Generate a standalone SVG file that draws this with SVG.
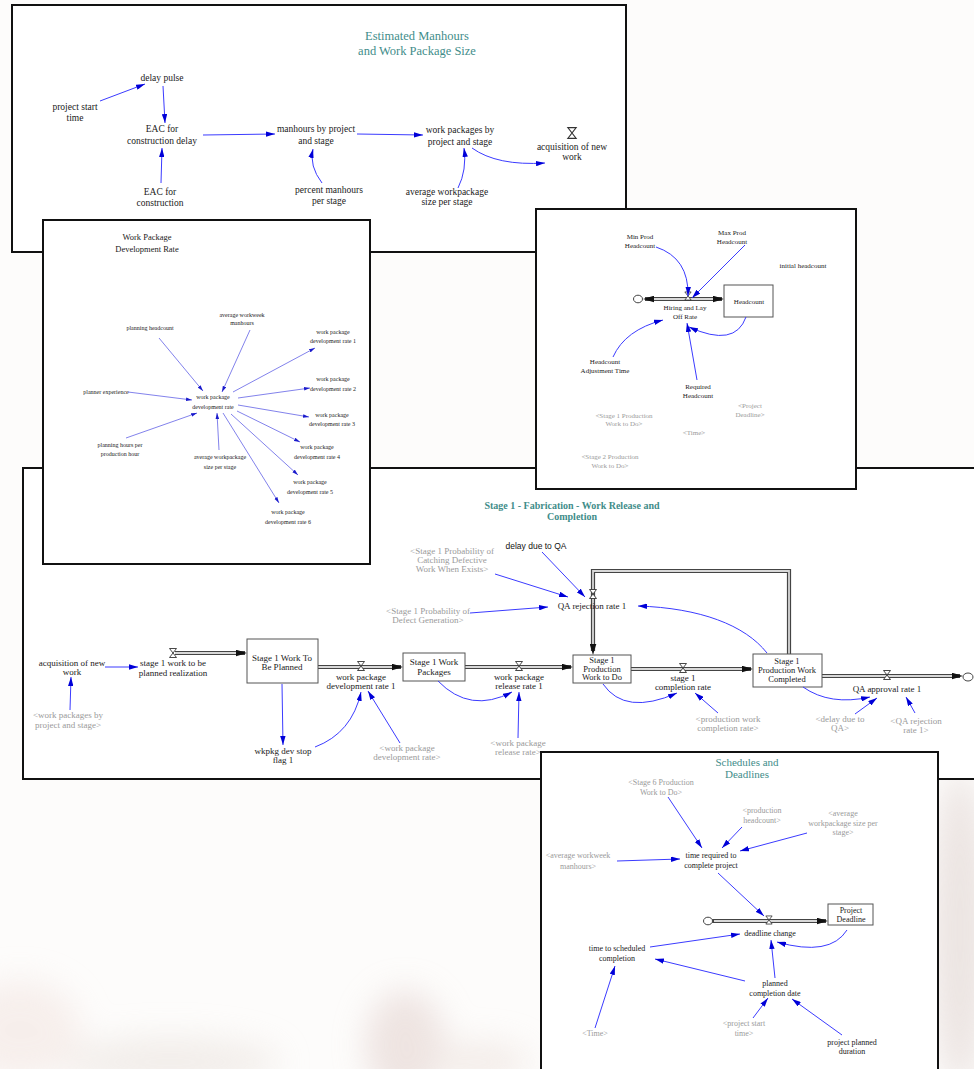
<svg xmlns="http://www.w3.org/2000/svg" width="974" height="1069" viewBox="0 0 974 1069">
<style>
.panel{fill:#fff;stroke:#111;stroke-width:2}
.t{font-family:"Liberation Serif","Times New Roman",serif;fill:#1a1a1a;text-anchor:middle}
.g{fill:#9a9a9a}
.ttl{fill:#3f8d8a}
.p1{font-size:9.5px}
.p2{font-size:6px}
.p3{font-size:7px}
.p4{font-size:9px}
.p5{font-size:8px}
.c{fill:none;stroke:#3b3bff;stroke-width:1;marker-end:url(#ab)}
.cs{fill:none;stroke:#6262e6;stroke-width:0.8;marker-end:url(#abs)}
.pipeo{fill:none;stroke:#444;stroke-width:4.2}
.pipei{fill:none;stroke:#d8d8d8;stroke-width:1.8}
.box{fill:#fff;stroke:#555;stroke-width:1}
.valve{fill:#fff;stroke:#333;stroke-width:0.9}
.cloud{fill:#fff;stroke:#444;stroke-width:1}
</style>
<defs>
<marker id="ab" viewBox="0 0 10 6" refX="10" refY="3" markerWidth="9" markerHeight="5.5" markerUnits="userSpaceOnUse" orient="auto"><path d="M0,0 L10,3 L0,6 z" fill="#0000d8"/></marker>
<marker id="abs" viewBox="0 0 10 6" refX="10" refY="3" markerWidth="6" markerHeight="4" markerUnits="userSpaceOnUse" orient="auto"><path d="M0,0 L10,3 L0,6 z" fill="#1a1acc"/></marker>
<marker id="af" viewBox="0 0 10 6" refX="10" refY="3" markerWidth="11" markerHeight="7" markerUnits="userSpaceOnUse" orient="auto-start-reverse"><path d="M0,0 L10,3 L0,6 z" fill="#111"/></marker>
<path id="hg" d="M-3.5,-4.5 H3.5 L-3.5,4.5 H3.5 Z"/>
<filter id="blur" x="-50%" y="-50%" width="200%" height="200%"><feGaussianBlur stdDeviation="16"/></filter>
</defs>

<g id="background">
<rect x="0" y="0" width="974" height="1069" fill="#fdfcfb"/>
<g filter="url(#blur)" opacity="0.6">
<ellipse cx="20" cy="1030" rx="60" ry="50" fill="#f3e6e2"/>
<ellipse cx="170" cy="1062" rx="110" ry="25" fill="#ebe4df"/>
<ellipse cx="405" cy="1045" rx="40" ry="55" fill="#e4d4d0"/>
<ellipse cx="480" cy="1062" rx="50" ry="20" fill="#ede2dd"/>
<ellipse cx="960" cy="930" rx="28" ry="160" fill="#e0d4d0"/>
</g>
</g>

<!-- Panel 1 -->
<g id="panel-estimated-manhours">
<rect class="panel" x="12" y="5" width="614" height="247"/>
<text class="t ttl" font-size="12.5" x="417" y="40">Estimated Manhours</text>
<text class="t ttl" font-size="12.5" x="417" y="55">and Work Package Size</text>
<g id="n-delay-pulse"><text class="t p1" x="162" y="81">delay pulse</text></g>
<g id="n-project-start-time"><text class="t p1" x="75" y="110">project start</text><text class="t p1" x="75" y="121">time</text></g>
<g id="n-eac-delay"><text class="t p1" x="162" y="132">EAC for</text><text class="t p1" x="162" y="144">construction delay</text></g>
<g id="n-eac"><text class="t p1" x="160" y="195">EAC for</text><text class="t p1" x="160" y="206">construction</text></g>
<g id="n-manhours"><text class="t p1" x="316" y="132">manhours by project</text><text class="t p1" x="316" y="144">and stage</text></g>
<g id="n-percent"><text class="t p1" x="329" y="193">percent manhours</text><text class="t p1" x="329" y="204">per stage</text></g>
<g id="n-wp-by-project"><text class="t p1" x="460" y="133">work packages by</text><text class="t p1" x="460" y="145">project and stage</text></g>
<g id="n-avg-wp"><text class="t p1" x="447" y="195">average workpackage</text><text class="t p1" x="447" y="205">size per stage</text></g>
<g id="n-acq"><use href="#hg" class="valve" transform="translate(572,133) scale(1.2)"/><text class="t p1" x="572" y="150">acquisition of new</text><text class="t p1" x="572" y="160">work</text></g>
<g id="connectors-1">
<path class="c" d="M100,101 L145,84"/>
<path class="c" d="M163,86 L165,123"/>
<path class="c" d="M161,183 L162,148"/>
<path class="c" d="M203,135 L275,134"/>
<path class="c" d="M322,183 Q309,166 313,149"/>
<path class="c" d="M357,134 L423,135"/>
<path class="c" d="M458,188 Q467,170 464,148"/>
<path class="c" d="M472,148 Q497,166 545,163"/>
</g>
</g>

<!-- Panel 4 -->
<g id="panel-stage1">
<rect class="panel" x="23" y="468" width="960" height="311"/>
<text class="t ttl" font-size="10" font-weight="bold" x="572" y="509">Stage 1 - Fabrication - Work Release and</text>
<text class="t ttl" font-size="10" font-weight="bold" x="572" y="520">Completion</text>
<g id="pipes-4">
<path class="pipeo" d="M175,653 H245"/><path class="pipei" d="M175,653 H243"/>
<path class="pipeo" d="M318,667 H401"/><path class="pipei" d="M318,667 H399"/>
<path class="pipeo" d="M465,667 H571"/><path class="pipei" d="M465,667 H569"/>
<path class="pipeo" d="M631,669 H751"/><path class="pipei" d="M631,669 H749"/>
<path class="pipeo" d="M822,676 H960"/><path class="pipei" d="M822,676 H958"/>
<path class="pipeo" d="M789,654 V571 H593 V651"/><path class="pipei" d="M789,654 V571 H593 V649"/>
<path fill="none" stroke="none" d="M175,653 H247" marker-end="url(#af)"/>
<path fill="none" stroke="none" d="M318,667 H403" marker-end="url(#af)"/>
<path fill="none" stroke="none" d="M465,667 H573" marker-end="url(#af)"/>
<path fill="none" stroke="none" d="M631,669 H753" marker-end="url(#af)"/>
<path fill="none" stroke="none" d="M822,676 H963" marker-end="url(#af)"/>
<path fill="none" stroke="none" d="M593,600 V655" marker-end="url(#af)"/>
<ellipse class="cloud" cx="968" cy="677" rx="5" ry="4"/>
</g>
<g id="n-acq4"><text class="t p4" x="72" y="666">acquisition of new</text><text class="t p4" x="72" y="675">work</text></g>
<g id="n-s1-realization"><use href="#hg" class="valve" transform="translate(173,653)"/><text class="t p4" x="173" y="666">stage 1 work to be</text><text class="t p4" x="173" y="676">planned realization</text></g>
<g id="n-s1-tobeplanned"><rect class="box" x="247" y="639" width="71" height="44"/><text class="t p4" x="282" y="661">Stage 1 Work To</text><text class="t p4" x="282" y="670">Be Planned</text></g>
<g id="n-wp-by-project-shadow"><text class="t p4 g" x="68" y="718">&lt;work packages by</text><text class="t p4 g" x="68" y="728">project and stage&gt;</text></g>
<g id="n-stopflag"><text class="t p4" x="283" y="754">wkpkg dev stop</text><text class="t p4" x="283" y="763">flag 1</text></g>
<g id="n-devrate1"><use href="#hg" class="valve" transform="translate(361,666)"/><text class="t p4" x="361" y="680">work package</text><text class="t p4" x="361" y="689">development rate 1</text></g>
<g id="n-s1-packages"><rect class="box" x="403" y="653" width="62" height="28"/><text class="t p4" x="434" y="665">Stage 1 Work</text><text class="t p4" x="434" y="675">Packages</text></g>
<g id="n-releaserate1"><use href="#hg" class="valve" transform="translate(519,666)"/><text class="t p4" x="519" y="680">work package</text><text class="t p4" x="519" y="689">release rate 1</text></g>
<g id="n-s1-todo"><rect class="box" x="573" y="655" width="58" height="28"/><text class="t" font-size="8.5" x="602" y="663">Stage 1</text><text class="t" font-size="8.5" x="602" y="671.5">Production</text><text class="t" font-size="8.5" x="602" y="680">Work to Do</text></g>
<g id="n-s1-completion"><use href="#hg" class="valve" transform="translate(683,668)"/><text class="t p4" x="683" y="681">stage 1</text><text class="t p4" x="683" y="690">completion rate</text></g>
<g id="n-s1-completed"><rect class="box" x="753" y="654" width="69" height="33"/><text class="t" font-size="8.5" x="787" y="664">Stage 1</text><text class="t" font-size="8.5" x="787" y="673">Production Work</text><text class="t" font-size="8.5" x="787" y="682">Completed</text></g>
<g id="n-qa-approval"><use href="#hg" class="valve" transform="translate(887,675)"/><text class="t p4" x="887" y="692">QA approval rate 1</text></g>
<g id="n-qa-rejection"><use href="#hg" class="valve" transform="translate(593,594)"/><text class="t p4" x="592" y="609">QA rejection rate 1</text></g>
<g id="n-delay-qa"><text x="536" y="549" font-family="Liberation Sans, Arial, sans-serif" font-size="8.5" fill="#111" text-anchor="middle">delay due to QA</text></g>
<g id="n-prob-catch"><text class="t p4 g" x="452" y="554">&lt;Stage 1 Probability of</text><text class="t p4 g" x="452" y="563">Catching Defective</text><text class="t p4 g" x="452" y="572">Work When Exists&gt;</text></g>
<g id="n-prob-defect"><text class="t p4 g" x="428" y="614">&lt;Stage 1 Probability of</text><text class="t p4 g" x="428" y="623">Defect Generation&gt;</text></g>
<g id="n-wp-devrate-shadow"><text class="t p4 g" x="407" y="751">&lt;work package</text><text class="t p4 g" x="407" y="760">development rate&gt;</text></g>
<g id="n-wp-relrate-shadow"><text class="t p4 g" x="518" y="746">&lt;work package</text><text class="t p4 g" x="518" y="755">release rate&gt;</text></g>
<g id="n-prodwork-shadow"><text class="t p4 g" x="728" y="722">&lt;production work</text><text class="t p4 g" x="728" y="731">completion rate&gt;</text></g>
<g id="n-delayqa-shadow"><text class="t p4 g" x="840" y="722">&lt;delay due to</text><text class="t p4 g" x="840" y="731">QA&gt;</text></g>
<g id="n-qarej-shadow"><text class="t p4 g" x="916" y="724">&lt;QA rejection</text><text class="t p4 g" x="916" y="733">rate 1&gt;</text></g>
<g id="connectors-4">
<path class="c" d="M105,667 L138,667"/>
<path class="c" d="M70,710 L71,677"/>
<path class="c" d="M282,684 L283,745"/>
<path class="c" d="M315,747 Q352,733 361,692"/>
<path class="c" d="M400,743 L368,691"/>
<path class="c" d="M438,681 Q470,714 512,692"/>
<path class="c" d="M518,738 L519,692"/>
<path class="c" d="M603,684 Q625,716 677,693"/>
<path class="c" d="M718,713 L695,693"/>
<path class="c" d="M767,653 C745,625 700,608 638,606"/>
<path class="c" d="M803,687 Q830,706 870,697"/>
<path class="c" d="M855,714 L877,698"/>
<path class="c" d="M915,713 L906,697"/>
<path class="c" d="M495,574 L568,597"/>
<path class="c" d="M542,552 L585,597"/>
<path class="c" d="M470,613 L548,607"/>
</g>
</g>

<!-- Panel 2 -->
<g id="panel-wp-dev-rate">
<rect class="panel" x="43" y="220" width="327" height="344"/>
<text class="t" font-size="8.5" fill="#6aa6a6" x="147" y="240">Work Package</text>
<text class="t" font-size="8.5" fill="#6aa6a6" x="147" y="252">Development Rate</text>
<g id="n-planning-headcount"><text class="t p2" x="150" y="330">planning headcount</text></g>
<g id="n-avg-workweek"><text class="t p2" x="242" y="317">average workweek</text><text class="t p2" x="242" y="325">manhours</text></g>
<g id="n-rate1"><text class="t p2" x="333" y="334">work package</text><text class="t p2" x="333" y="343">development rate 1</text></g>
<g id="n-rate2"><text class="t p2" x="333" y="381">work package</text><text class="t p2" x="333" y="391">development rate 2</text></g>
<g id="n-rate3"><text class="t p2" x="332" y="417">work package</text><text class="t p2" x="332" y="426">development rate 3</text></g>
<g id="n-rate4"><text class="t p2" x="317" y="449">work package</text><text class="t p2" x="317" y="459">development rate 4</text></g>
<g id="n-rate5"><text class="t p2" x="310" y="484">work package</text><text class="t p2" x="310" y="494">development rate 5</text></g>
<g id="n-rate6"><text class="t p2" x="288" y="514">work package</text><text class="t p2" x="288" y="524">development rate 6</text></g>
<g id="n-planner-exp"><text class="t p2" x="106" y="394">planner experience</text></g>
<g id="n-planning-hours"><text class="t p2" x="120" y="447">planning hours per</text><text class="t p2" x="120" y="456">production hour</text></g>
<g id="n-avg-wp2"><text class="t p2" x="220" y="459">average workpackage</text><text class="t p2" x="220" y="469">size per stage</text></g>
<g id="n-devrate"><text class="t p2" x="213" y="399">work package</text><text class="t p2" x="213" y="409">development rate</text></g>
<g id="connectors-2">
<path class="cs" d="M159,338 L203,391"/>
<path class="cs" d="M250,330 L222,392"/>
<path class="cs" d="M233,392 L315,348"/>
<path class="cs" d="M238,398 L310,388"/>
<path class="cs" d="M238,405 L309,417"/>
<path class="cs" d="M237,411 L300,442"/>
<path class="cs" d="M231,414 L298,475"/>
<path class="cs" d="M223,413 L279,503"/>
<path class="cs" d="M128,392 L192,400"/>
<path class="cs" d="M126,438 L197,413"/>
<path class="cs" d="M219,450 L217,413"/>
</g>
</g>

<!-- Panel 3 -->
<g id="panel-headcount">
<rect class="panel" x="536" y="209" width="320" height="280"/>
<g id="pipe-3">
<path class="pipeo" d="M645,299 H722"/><path class="pipei" d="M648,299 H720"/>
<path fill="none" stroke="none" d="M643,299 H724" marker-start="url(#af)" marker-end="url(#af)"/>
<ellipse class="cloud" cx="638" cy="299" rx="4.5" ry="3.8"/>
</g>
<g id="n-headcount"><rect class="box" x="724" y="285" width="49" height="32"/><text class="t p3" x="749" y="304">Headcount</text></g>
<g id="n-hiring"><use href="#hg" class="valve" transform="translate(688,296) scale(0.9)"/><text class="t p3" x="685" y="310">Hiring and Lay</text><text class="t p3" x="685" y="319">Off Rate</text></g>
<g id="n-minprod"><text class="t p3" x="640" y="239">Min Prod</text><text class="t p3" x="640" y="248">Headcount</text></g>
<g id="n-maxprod"><text class="t p3" x="732" y="235">Max Prod</text><text class="t p3" x="732" y="244">Headcount</text></g>
<g id="n-initial"><text class="t p3" x="803" y="268">initial headcount</text></g>
<g id="n-adjtime"><text class="t p3" x="605" y="364">Headcount</text><text class="t p3" x="605" y="373">Adjustment Time</text></g>
<g id="n-required"><text class="t p3" x="698" y="389">Required</text><text class="t p3" x="698" y="398">Headcount</text></g>
<g id="n-s1todo-shadow"><text class="t p3 g" x="624" y="418">&lt;Stage 1 Production</text><text class="t p3 g" x="624" y="426">Work to Do&gt;</text></g>
<g id="n-deadline-shadow"><text class="t p3 g" x="750" y="408">&lt;Project</text><text class="t p3 g" x="750" y="417">Deadline&gt;</text></g>
<g id="n-time-shadow3"><text class="t p3 g" x="694" y="435">&lt;Time&gt;</text></g>
<g id="n-s2todo-shadow"><text class="t p3 g" x="610" y="459">&lt;Stage 2 Production</text><text class="t p3 g" x="610" y="468">Work to Do&gt;</text></g>
<g id="connectors-3">
<path class="c" d="M656,247 Q689,258 688,296"/>
<path class="c" d="M745,245 L692,298"/>
<path class="c" d="M613,357 Q625,330 663,320"/>
<path class="c" d="M697,380 L687,323"/>
<path class="c" d="M746,317 Q735,348 689,327"/>
</g>
</g>

<!-- Panel 5 -->
<g id="panel-schedules">
<rect class="panel" x="541" y="752" width="397" height="330"/>
<text class="t ttl" font-size="11" x="747" y="766">Schedules and</text>
<text class="t ttl" font-size="11" x="747" y="778">Deadlines</text>
<g id="pipe-5">
<path class="pipeo" d="M712,921 H826"/><path class="pipei" d="M714,921 H824"/>
<path fill="none" stroke="none" d="M712,921 H828" marker-end="url(#af)"/>
<ellipse class="cloud" cx="708" cy="921" rx="4.5" ry="3.8"/>
</g>
<g id="n-s6todo-shadow"><text class="t p5 g" x="661" y="785">&lt;Stage 6 Production</text><text class="t p5 g" x="661" y="795">Work to Do&gt;</text></g>
<g id="n-prodhead-shadow"><text class="t p5 g" x="762" y="813">&lt;production</text><text class="t p5 g" x="762" y="823">headcount&gt;</text></g>
<g id="n-avgwp-shadow"><text class="t p5 g" x="843" y="816">&lt;average</text><text class="t p5 g" x="843" y="826">workpackage size per</text><text class="t p5 g" x="843" y="835">stage&gt;</text></g>
<g id="n-avgww-shadow"><text class="t p5 g" x="578" y="858">&lt;average workweek</text><text class="t p5 g" x="578" y="869">manhours&gt;</text></g>
<g id="n-timereq"><text class="t p5" x="711" y="858">time required to</text><text class="t p5" x="711" y="868">complete project</text></g>
<g id="n-projdeadline"><rect class="box" x="828" y="904" width="45" height="21"/><text class="t p5" x="851" y="913">Project</text><text class="t p5" x="851" y="922">Deadline</text></g>
<g id="n-deadlinechange"><use href="#hg" class="valve" transform="translate(769,920) scale(0.9)"/><text class="t p5" x="770" y="936">deadline change</text></g>
<g id="n-timesched"><text class="t p5" x="617" y="951">time to scheduled</text><text class="t p5" x="617" y="961">completion</text></g>
<g id="n-planneddate"><text class="t p5" x="775" y="986">planned</text><text class="t p5" x="775" y="996">completion date</text></g>
<g id="n-pst-shadow"><text class="t p5 g" x="744" y="1026">&lt;project start</text><text class="t p5 g" x="744" y="1036">time&gt;</text></g>
<g id="n-planneddur"><text class="t p5" x="852" y="1045">project planned</text><text class="t p5" x="852" y="1054">duration</text></g>
<g id="n-time-shadow5"><text class="t p5 g" x="595" y="1036">&lt;Time&gt;</text></g>
<g id="connectors-5">
<path class="c" d="M668,797 L702,848"/>
<path class="c" d="M742,827 L722,848"/>
<path class="c" d="M807,833 L740,851"/>
<path class="c" d="M617,861 L680,859"/>
<path class="c" d="M718,873 L764,916"/>
<path class="c" d="M847,930 Q830,957 777,942"/>
<path class="c" d="M650,947 L740,934"/>
<path class="c" d="M775,978 L771,940"/>
<path class="c" d="M745,981 L655,959"/>
<path class="c" d="M595,1028 L615,966"/>
<path class="c" d="M753,1018 L768,998"/>
<path class="c" d="M842,1035 L792,999"/>
</g>
</g>
</svg>
